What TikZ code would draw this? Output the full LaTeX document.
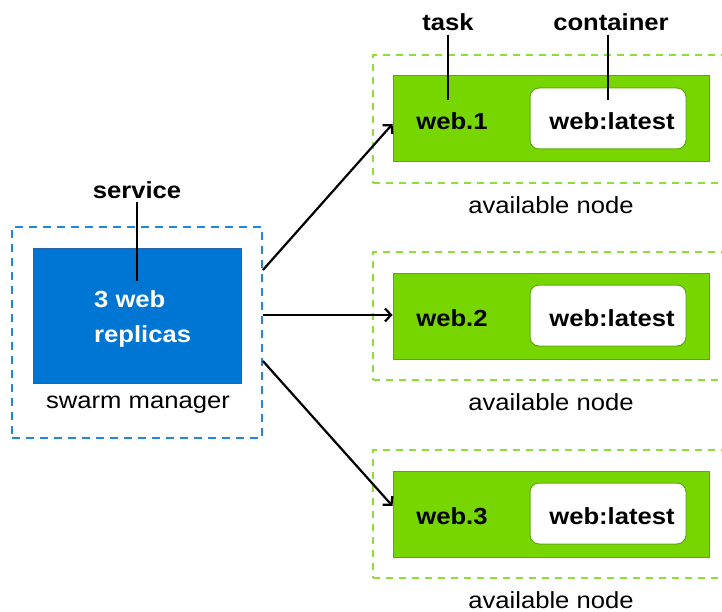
\documentclass[tikz,border=0pt]{standalone}
\usepackage{fontspec}
\setmainfont{Liberation Sans}[FakeStretch=1.1]
\usetikzlibrary{arrows.meta}
\definecolor{bluefill}{RGB}{0,118,212}
\definecolor{blueline}{RGB}{40,100,170}
\definecolor{bluedash}{RGB}{30,136,222}
\definecolor{greenfill}{RGB}{119,214,0}
\definecolor{greenline}{RGB}{90,170,10}
\definecolor{greendash}{RGB}{140,222,60}
\begin{document}
\begin{tikzpicture}[x=1pt,y=-1pt,
  txt/.style={font=\fontsize{23.3}{28}\selectfont, inner sep=0pt},
  btxt/.style={txt, font=\fontsize{23.3}{28}\selectfont\bfseries},
  bluedashbox/.style={draw=bluedash, line width=1.8pt, dash pattern=on 8pt off 6pt},
  greendashbox/.style={draw=greendash, line width=1.8pt, dash pattern=on 7pt off 6pt},
  bluebox/.style={fill=bluefill, draw=blueline, line width=1pt},
  greenbox/.style={fill=greenfill, draw=greenline, line width=1pt},
  whitebox/.style={fill=white, draw=greenline, line width=1pt, rounded corners=9pt},
  callout/.style={draw=black, line width=2pt},
  flow/.style={draw=black, line width=2.2pt, -{Straight Barb[length=6pt,width=13pt,line width=2.2pt]}}
]
\useasboundingbox (0,0) rectangle (722,612);
\clip (0,0) rectangle (722,612);
\fill[white] (0,0) rectangle (722,612);

% swarm manager
\node[bluedashbox, rectangle, minimum width=250pt, minimum height=211pt, inner sep=0pt] (mgr) at (137,332.5) {};
\node[bluebox, rectangle, minimum width=208pt, minimum height=135pt, inner sep=0pt] (svc) at (137,315.5) {};
\node[btxt, text=white, align=left, anchor=west, font=\fontsize{23.3}{35}\selectfont\bfseries] (svctext) at (94,319) {3 web\\replicas};
\node[txt] (mgrlabel) at (138,405) {swarm manager};
\node[btxt] (servicelabel) at (137,190) {service};
\coordinate (servicept) at (137,281);
\draw[callout] (servicelabel.south) ++(0,3) -- (servicept);

% available nodes
\foreach \i/\dy in {1/0,2/197,3/395}{
  \node[greendashbox, rectangle, minimum width=380pt, minimum height=128pt, inner sep=0pt] (avail\i) at (563,119+\dy) {};
  \node[greenbox, rectangle, minimum width=316pt, minimum height=86pt, inner sep=0pt] (task\i) at (551,119+\dy) {};
  \node[whitebox, rectangle, minimum width=156pt, minimum height=61pt, inner sep=0pt] (cont\i) at (608,118.5+\dy) {};
  \node[btxt] (web\i) at (452,121+\dy) {web.\i};
  \node[btxt] (img\i) at (612,121+\dy) {web:latest};
  \node[txt] (availlabel\i) at (551,205+\dy) {available node};
}

% callouts on top
\node[btxt] (tasklabel) at (448,22) {task};
\node[btxt] (containerlabel) at (611,22) {container};
\coordinate (taskpt) at (448,100);
\coordinate (containerpt) at (608,100);
\draw[callout] (tasklabel.south) ++(0,4) -- (taskpt);
\draw[callout] (containerpt |- containerlabel.south) ++(0,4) -- (containerpt);

% arrows
\draw[flow] ([yshift=62.5pt]mgr.east) -- ([yshift=-5pt]task1.west);
\draw[flow] ([yshift=17.5pt]mgr.east) -- (task2.west |- 0,315);
\draw[flow] ([yshift=-28.5pt]mgr.east) -- ([yshift=8pt]task3.west);
\end{tikzpicture}
\end{document}
